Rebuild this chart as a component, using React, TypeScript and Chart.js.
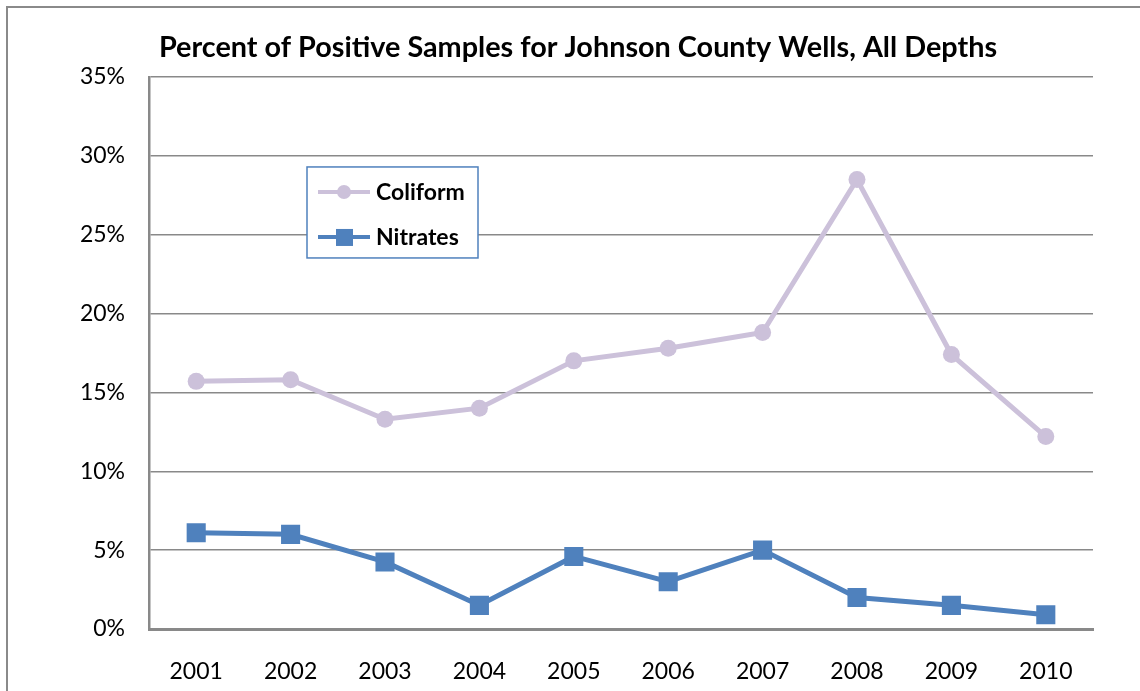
import React, { useEffect, useRef } from "react";
import { Chart, registerables } from "chart.js";

Chart.register(...registerables);

const years = ["2001", "2002", "2003", "2004", "2005", "2006", "2007", "2008", "2009", "2010"];
const coliform = [15.7, 15.8, 13.3, 14.0, 17.0, 17.8, 18.8, 28.5, 17.4, 12.2];
const nitrates = [6.1, 6.0, 4.25, 1.5, 4.6, 3.0, 5.0, 2.0, 1.5, 0.9];
const seriesNames = ["Coliform", "Nitrates"];
const chartTitle = "Percent of Positive Samples for Johnson County Wells, All Depths";

const FONT = "Lato, 'Noto Sans', sans-serif";
const COLI = "#ccc1da";
const NITR = "#4f81bd";
const GRID = "#898989";

const legendPlugin = {
  id: "boxLegend",
  afterDraw(chart: any) {
    const { ctx, chartArea } = chart;
    const x0 = chartArea.left + 158;
    const y0 = chartArea.top + 90;
    const w = 171;
    const h = 91;
    ctx.save();
    ctx.fillStyle = "#ffffff";
    ctx.fillRect(x0, y0, w, h);
    ctx.strokeStyle = NITR;
    ctx.lineWidth = 1.5;
    ctx.strokeRect(x0, y0, w, h);
    const rows = [
      { y: y0 + 25, color: COLI, style: "circle", name: seriesNames[0] },
      { y: y0 + 70, color: NITR, style: "rect", name: seriesNames[1] },
    ];
    rows.forEach((r) => {
      ctx.strokeStyle = r.color;
      ctx.lineWidth = 4;
      ctx.beginPath();
      ctx.moveTo(x0 + 11, r.y);
      ctx.lineTo(x0 + 63, r.y);
      ctx.stroke();
      ctx.fillStyle = r.color;
      if (r.style === "circle") {
        ctx.beginPath();
        ctx.arc(x0 + 37, r.y, 7, 0, Math.PI * 2);
        ctx.fill();
      } else {
        ctx.fillRect(x0 + 29, r.y - 8, 17, 17);
      }
      ctx.fillStyle = "#000";
      ctx.font = `bold 23px ${FONT}`;
      ctx.textBaseline = "middle";
      ctx.textAlign = "left";
      ctx.fillText(r.name, x0 + 69, r.y + 1);
    });
    ctx.restore();
  },
};

export default function App() {
  const ref = useRef<HTMLCanvasElement>(null);
  useEffect(() => {
    if (!ref.current) return;
    const chart = new Chart(ref.current, {
      type: "line",
      data: {
        labels: years,
        datasets: [
          {
            label: seriesNames[0],
            data: coliform,
            borderColor: COLI,
            backgroundColor: COLI,
            borderWidth: 5,
            pointStyle: "circle",
            pointRadius: 8.5,
            pointBorderWidth: 0,
            pointBackgroundColor: COLI,
            tension: 0,
          },
          {
            label: seriesNames[1],
            data: nitrates,
            borderColor: NITR,
            backgroundColor: NITR,
            borderWidth: 5,
            pointStyle: "rect",
            pointRadius: 13.5,
            pointBorderWidth: 0,
            pointBackgroundColor: NITR,
            tension: 0,
          },
        ],
      },
      plugins: [legendPlugin],
      options: {
        responsive: false,
        animation: false,
        layout: { padding: { left: 0, right: 0, top: 0, bottom: 0 } },
        plugins: {
          legend: { display: false },
          tooltip: { enabled: false },
          title: {
            display: true,
            text: chartTitle,
            color: "#000",
            font: { family: FONT, size: 28.8, weight: "bold", lineHeight: 1.2 },
            padding: { top: 22, bottom: 12.4 },
          },
        },
        scales: {
          x: {
            offset: true,
            grid: { display: false },
            border: { display: true, color: GRID, width: 3 },
            ticks: {
              color: "#000",
              font: { family: FONT, size: 23 },
              padding: 21,
              maxRotation: 0,
            },
            afterFit: (s: any) => {
              s.height = 62;
            },
          },
          y: {
            min: 0,
            max: 35,
            grid: { color: GRID, lineWidth: 1.5, drawTicks: false },
            border: { display: true, color: GRID, width: 2.5 },
            ticks: {
              stepSize: 5,
              color: "#000",
              font: { family: FONT, size: 23 },
              padding: 24,
              callback: (v: any) => `${v}%`,
            },
            afterFit: (s: any) => {
              s.width = 141;
            },
          },
          yRight: {
            position: "right",
            min: 0,
            max: 35,
            grid: { display: false, drawOnChartArea: false },
            border: { display: false },
            ticks: { display: false },
            afterFit: (s: any) => {
              s.width = 55;
            },
          },
        },
      },
    });
    return () => chart.destroy();
  }, []);
  return (
    <div style={{ position: "fixed", inset: 0, overflow: "hidden", background: "#fff" }}>
      <div
        style={{
          position: "absolute",
          left: 6,
          top: 6,
          width: 1200,
          height: 800,
          border: "2px solid #8a8a8a",
          boxSizing: "border-box",
        }}
      />
      <canvas
        ref={ref}
        width={1140}
        height={683}
        style={{ position: "absolute", left: 8, top: 8, width: 1140, height: 683 }}
      />
    </div>
  );
}
